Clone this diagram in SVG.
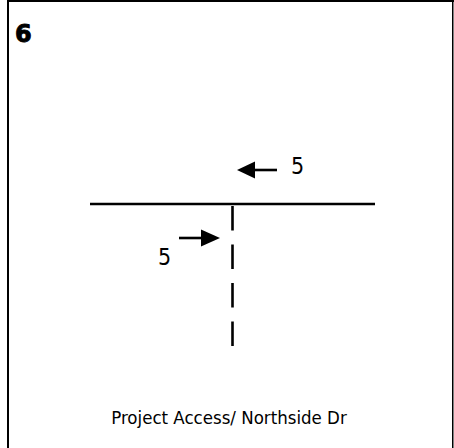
<svg xmlns="http://www.w3.org/2000/svg" width="454" height="448" viewBox="0 0 454 448">
<style>
.ln{stroke:#000;stroke-width:2.6;fill:none}
.t{font-family:"DejaVu Sans Condensed","DejaVu Sans",sans-serif;fill:#000}
.h{font-family:"DejaVu Sans",sans-serif;font-weight:bold;fill:#000;stroke:#000;stroke-width:0.9;stroke-linejoin:round}
</style>
<rect width="454" height="448" fill="#fff"/>
<g id="frame">
<rect x="7" y="0" width="447" height="2" fill="#000"/>
<rect x="7" y="0" width="2" height="448" fill="#000"/>
<rect x="452" y="0" width="1.5" height="448" fill="#000"/>
</g>
<g id="title"><text class="h" x="15" y="42" font-size="24">6</text></g>
<g id="connectors">
<line class="ln" x1="90" y1="204" x2="375" y2="204" stroke-width="3"/>
<line class="ln" x1="232.5" y1="206" x2="232.5" y2="346" stroke-dasharray="24.5 14"/>
<line class="ln" x1="277" y1="170" x2="252" y2="170"/>
<polygon points="237,170 255,161.5 255,178.5" fill="#000"/>
<line class="ln" x1="179" y1="238" x2="204" y2="238"/>
<polygon points="220,238 201,229.5 201,246.5" fill="#000"/>
</g>
<g id="labels">
<text class="t" x="291" y="174" font-size="23">5</text>
<text class="t" x="158" y="265" font-size="23">5</text>
<text class="t" x="229" y="424" font-size="18.5" text-anchor="middle">Project Access/ Northside Dr</text>
</g>
</svg>
